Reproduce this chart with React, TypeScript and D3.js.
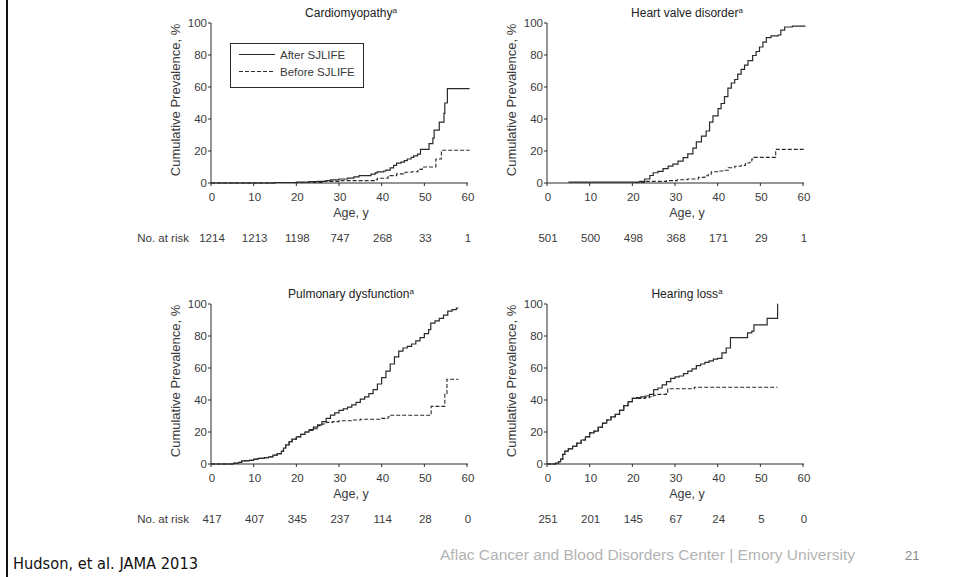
import React from "react";
import * as d3 from "d3";

type Pt = [number, number];

const titles = ["Cardiomyopathy", "Heart valve disorder", "Pulmonary dysfunction", "Hearing loss"];
const xTicks = [0, 10, 20, 30, 40, 50, 60];
const yTicks = [0, 20, 40, 60, 80, 100];
const legendLabels = ["After SJLIFE", "Before SJLIFE"];

const riskCardio = [1214, 1213, 1198, 747, 268, 33, 1];
const riskHeart = [501, 500, 498, 368, 171, 29, 1];
const riskPulm = [417, 407, 345, 237, 114, 28, 0];
const riskHearing = [251, 201, 145, 67, 24, 5, 0];

const cardioAfter: Pt[] = [[0, 0], [15, 0.3], [20, 0.6], [23, 0.8], [25, 1], [27, 1.5], [28, 2], [30, 2.5], [32, 3], [33.5, 3.8], [34.7, 4.6], [37.5, 5.5], [38.5, 6.3], [39, 7], [40.5, 7.5], [41, 8], [42, 9.5], [42.8, 11], [43.5, 12.4], [44.5, 13], [45.3, 14], [46, 15], [46.9, 16], [47.5, 17], [48.4, 18], [49.1, 21], [50.9, 21], [51.1, 24.6], [52, 28], [52.3, 33], [53.5, 38], [54.6, 43.5], [54.8, 50], [55.4, 59], [60.6, 59]];
const cardioBefore: Pt[] = [[0, 0], [15, 0.3], [26, 1], [30, 1.5], [38.3, 2], [39, 3], [41.5, 4.6], [43.5, 5.7], [45.5, 6.7], [47, 7], [48.5, 8.5], [49.5, 10], [52.5, 10], [52.7, 15], [54, 20.5], [60.6, 20.5]];

const heartAfter: Pt[] = [[5, 0.5], [20.6, 0.5], [21.7, 1], [22.9, 2.5], [24.1, 4.7], [24.9, 6.4], [26, 7.3], [27.2, 9], [28.4, 10.5], [29.5, 11.8], [30.7, 13.7], [31.9, 15.8], [33, 18.2], [34.2, 21.8], [35, 25.7], [36.2, 29.3], [37.3, 32.5], [38.1, 38], [38.9, 42], [40.1, 46.5], [40.8, 49.7], [41.6, 54], [42.4, 59.3], [43.2, 62.5], [44, 64.7], [44.7, 68], [45.5, 71], [46.3, 73.7], [47.1, 76.5], [48.2, 79.7], [49, 82.2], [49.8, 85], [50.6, 88], [51.4, 90.8], [52.5, 92], [54.2, 92.5], [54.8, 95.5], [55.7, 97.5], [57.5, 98], [60.6, 98]];
const heartBefore: Pt[] = [[20.6, 0.3], [23, 1], [28, 1.5], [30.5, 2], [33, 2.5], [35.5, 3.5], [37, 4.5], [37.8, 5.5], [38.5, 7], [40, 7.5], [41.5, 8], [42.5, 9.5], [44, 10.5], [45.5, 11], [46.5, 12.5], [47.5, 13], [48, 15], [48.5, 16], [53.5, 16], [53.6, 21], [60.6, 21]];

const pulmAfter: Pt[] = [[0, 0], [5.3, 0.5], [6.5, 1], [7.2, 2], [9, 2.3], [10, 3], [11, 3.5], [12.5, 4], [13.5, 4.5], [14.5, 5.5], [15.5, 6.5], [16.5, 8], [17, 10], [17.5, 12], [18.3, 14], [19, 15.5], [20, 17], [21, 18.5], [22, 20], [23, 21.5], [24, 23], [25, 24.5], [26, 26.5], [27, 28.5], [28, 30.5], [29, 32], [30, 33.5], [31, 34.5], [32, 35.5], [33, 37], [34, 38.5], [35, 40.5], [36, 42], [37, 44], [38, 46.5], [39, 50], [40, 54], [41, 58], [42, 62.5], [43, 67], [44, 70.5], [45, 72.5], [46, 73.5], [47, 75], [48, 77], [49, 79], [50, 81.5], [51, 84], [51.5, 88], [52.5, 89.5], [53.5, 91], [54.5, 93], [55.5, 95.5], [56.5, 96.5], [57.5, 97.5], [58, 97.5]];
const pulmBefore: Pt[] = [[0, 0], [5.3, 0.5], [6.5, 1], [7.2, 2], [9, 2.3], [10, 3], [11, 3.5], [12.5, 4], [13.5, 4.5], [14.5, 5.5], [15.5, 6.5], [16.5, 8], [17, 10], [17.5, 12], [18.3, 14], [19, 15.5], [20, 17], [21, 18.5], [22, 20], [23, 21], [24, 22], [25, 24], [26, 25], [27, 26], [28.5, 26.5], [30, 27], [33, 27.5], [35, 28], [40, 28.5], [41.5, 29.5], [42, 30.5], [51.5, 30.5], [51.6, 36], [54.5, 36], [54.8, 44], [55.3, 53], [58, 53]];

const hearAfter: Pt[] = [[0, 0], [2, 0.5], [2.7, 1.5], [3.2, 3], [3.7, 6], [4.2, 8], [5, 9.5], [6, 11], [7, 13], [8, 15], [9, 17], [10, 19.5], [11, 20.5], [12, 23], [13, 25.5], [14, 27.5], [15, 29.5], [16, 31], [17, 33.5], [18, 36.5], [19, 39], [20, 41], [21, 41.5], [22, 42], [23, 42.5], [24, 43.5], [25, 46.5], [26, 47.5], [27, 49.5], [28, 51.5], [29, 53.5], [30, 54.5], [31, 55], [32, 56.5], [33, 58], [34, 59.5], [35, 61.5], [36, 62.5], [37, 63.5], [38, 64.5], [39, 65.5], [40, 66], [41, 69.5], [42, 72.5], [43, 79], [46, 79], [47, 82], [48, 83], [48.5, 87], [51.5, 87], [51.6, 91], [54, 91], [54.05, 100], [54.1, 100]];
const hearBefore: Pt[] = [[0, 0], [2, 0.5], [2.7, 1.5], [3.2, 3], [3.7, 6], [4.2, 8], [5, 9.5], [6, 11], [7, 13], [8, 15], [9, 17], [10, 19.5], [11, 20.5], [12, 23], [13, 25.5], [14, 27.5], [15, 29.5], [16, 31], [17, 33.5], [18, 36.5], [19, 39], [20, 41], [22, 41], [23, 41.5], [24, 42], [25, 43], [26, 43.5], [28, 44], [28.3, 47], [34.5, 47.5], [34.6, 48], [54, 48]];

const panels = [
  { title: titles[0], risk: riskCardio, after: cardioAfter, before: cardioBefore, ax: 211, y0: 183, riskLabel: true, legend: true },
  { title: titles[1], risk: riskHeart, after: heartAfter, before: heartBefore, ax: 547, y0: 183, riskLabel: false, legend: false },
  { title: titles[2], risk: riskPulm, after: pulmAfter, before: pulmBefore, ax: 211, y0: 464, riskLabel: true, legend: false },
  { title: titles[3], risk: riskHearing, after: hearAfter, before: hearBefore, ax: 547, y0: 464, riskLabel: false, legend: false },
];

const FONT = "'Liberation Sans', Arial, Helvetica, sans-serif";
const TXT = "#3a3a3a";
const LINE = "#2a2a2a";

function Panel(p: typeof panels[number]) {
  const W = 256;
  const H = 160;
  const x = d3.scaleLinear().domain([0, 60]).range([p.ax, p.ax + W]);
  const y = d3.scaleLinear().domain([0, 100]).range([p.y0, p.y0 - H]);
  const line = d3.line<Pt>().x((d) => x(d[0])).y((d) => y(d[1])).curve(d3.curveStepAfter);
  const cx = (x(0) + x(60)) / 2 + 12;
  return (
    <g fontFamily={FONT}>
      <text x={cx} y={y(100) - 6} textAnchor="middle" fontSize={12} fill="#222">
        {p.title}
        <tspan fontSize={8} dy={-4}>a</tspan>
      </text>
      <line x1={x(0)} x2={x(60) + 1} y1={y(0)} y2={y(0)} stroke={LINE} strokeWidth={1} />
      <line x1={x(0)} x2={x(0)} y1={y(0)} y2={y(100)} stroke={LINE} strokeWidth={1} />
      {yTicks.map((t) => (
        <g key={"y" + t}>
          <line x1={x(0) - 3} x2={x(0)} y1={y(t)} y2={y(t)} stroke={LINE} />
          <text x={x(0) - 4} y={y(t) + 4} textAnchor="end" fontSize={11.5} fill={TXT}>{t}</text>
        </g>
      ))}
      {xTicks.map((t) => (
        <g key={"x" + t}>
          <line x1={x(t)} x2={x(t)} y1={y(0)} y2={y(0) + 3} stroke={LINE} />
          <text x={x(t) + 1} y={y(0) + 18} textAnchor="middle" fontSize={11.5} fill={TXT}>{t}</text>
        </g>
      ))}
      <text x={cx} y={y(0) + 34} textAnchor="middle" fontSize={12.5} fill={TXT}>Age, y</text>
      <text transform={`translate(${x(0) - 31},${(y(0) + y(100)) / 2 - 3}) rotate(-90)`} textAnchor="middle" fontSize={13} fill={TXT}>
        Cumulative Prevalence, %
      </text>
      {p.riskLabel && (
        <text x={x(0) - 22} y={y(0) + 59} textAnchor="end" fontSize={11.5} fill={TXT}>No. at risk</text>
      )}
      {p.risk.map((r, i) => (
        <text key={"r" + i} x={x(xTicks[i]) + 1} y={y(0) + 59} textAnchor="middle" fontSize={11.5} fill={TXT}>{r}</text>
      ))}
      <path d={line(p.before) || ""} fill="none" stroke={LINE} strokeWidth={1.1} strokeDasharray="4,2" />
      <path d={line(p.after) || ""} fill="none" stroke={LINE} strokeWidth={1.2} />
      {p.legend && (
        <g>
          <rect x={230.5} y={43.5} width={133} height={44} fill="white" stroke={LINE} strokeWidth={1} />
          <line x1={239} x2={275} y1={54.5} y2={54.5} stroke={LINE} strokeWidth={1.2} />
          <line x1={239} x2={275} y1={71.5} y2={71.5} stroke={LINE} strokeWidth={1.1} strokeDasharray="4,2" />
          <text x={280} y={58.5} fontSize={11.5} fill={TXT}>{legendLabels[0]}</text>
          <text x={280} y={75.5} fontSize={11.5} fill={TXT}>{legendLabels[1]}</text>
        </g>
      )}
    </g>
  );
}

export default function App() {
  return (
    <svg width={959} height={577} style={{ position: "absolute", left: 0, top: 0, background: "white" }}>
      <rect x={0} y={0} width={959} height={577} fill="white" />
      <rect x={6} y={0} width={2} height={577} fill="#111" />
      {panels.map((p, i) => (
        <Panel key={i} {...p} />
      ))}
      <text x={13} y={569} fontFamily="'DejaVu Sans', sans-serif" fontSize={15} fill="#111" textLength={185} lengthAdjust="spacingAndGlyphs">
        Hudson, et al. JAMA 2013
      </text>
      <text x={440} y={560} fontFamily="'Liberation Sans Narrow', 'Liberation Sans', Arial, sans-serif" fontSize={14} fill="#b3b3b3" textLength={415} lengthAdjust="spacingAndGlyphs">
        Aflac Cancer and Blood Disorders Center | Emory University
      </text>
      <text x={905} y={560} fontFamily="'Liberation Sans Narrow', 'Liberation Sans', Arial, sans-serif" fontSize={13} fill="#888">21</text>
    </svg>
  );
}
